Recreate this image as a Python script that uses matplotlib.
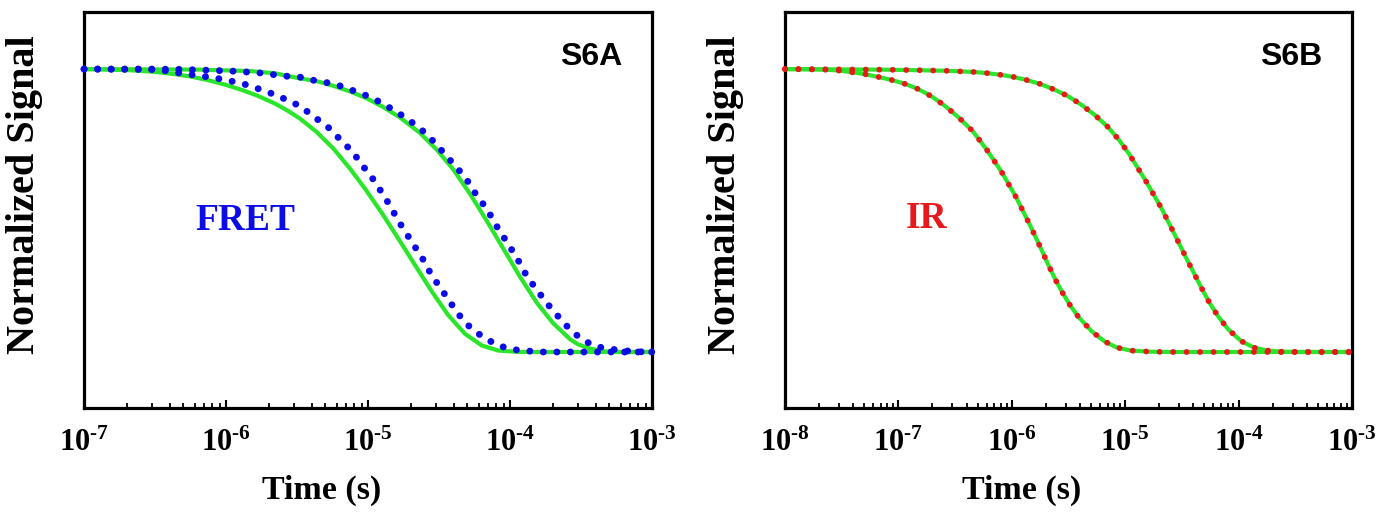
import matplotlib
matplotlib.use("Agg")
import matplotlib.pyplot as plt
import numpy as np
from matplotlib.ticker import LogLocator, NullFormatter, FuncFormatter

# ---- data (time as log10 of seconds, normalized signal) ----
# S6A, FRET: two measured decays (dotted) and their fits (solid green)
fret_fast_logt = [-7.0, -6.61, -6.51, -6.43, -6.33, -6.24, -6.14, -6.05, -5.96, -5.86,
                  -5.77, -5.67, -5.58, -5.47, -5.39, -5.29, -5.20, -5.11, -5.04, -4.96,
                  -4.90, -4.84, -4.79, -4.73, -4.67, -4.61, -4.56, -4.50, -4.44, -4.37,
                  -4.29, -4.19, -4.09, -4.00, -3.91, -3.79, -3.0]
fret_fast_sig = [1.0, 0.999, 0.998, 0.994, 0.986, 0.980, 0.973, 0.966, 0.957, 0.945,
                 0.930, 0.912, 0.893, 0.867, 0.834, 0.799, 0.753, 0.708, 0.660, 0.608,
                 0.561, 0.513, 0.466, 0.419, 0.372, 0.325, 0.278, 0.233, 0.190, 0.137,
                 0.092, 0.052, 0.025, 0.010, 0.005, 0.0, 0.0]

fret_slow_logt = [-7.0, -6.51, -6.33, -6.14, -5.96, -5.77, -5.58, -5.47, -5.39, -5.29,
                  -5.20, -5.10, -5.01, -4.91, -4.82, -4.72, -4.62, -4.53, -4.45, -4.36,
                  -4.29, -4.23, -4.16, -4.11, -4.05, -3.99, -3.93, -3.88, -3.81, -3.74,
                  -3.66, -3.57, -3.48, -3.39, -3.29, -3.20, -3.12, -3.0]
fret_slow_sig = [1.0, 1.0, 0.999, 0.996, 0.993, 0.987, 0.975, 0.971, 0.961, 0.952,
                 0.941, 0.923, 0.906, 0.882, 0.855, 0.823, 0.784, 0.740, 0.694, 0.643,
                 0.598, 0.549, 0.504, 0.457, 0.410, 0.363, 0.313, 0.266, 0.219, 0.172,
                 0.125, 0.075, 0.040, 0.019, 0.010, 0.005, 0.001, 0.0]

fit_fast_logt = [-7.0, -6.676, -6.500, -6.359, -6.254, -6.127, -6.007, -5.887, -5.775,
                 -5.655, -5.563, -5.479, -5.361, -5.244, -5.127, -5.021, -4.904, -4.787,
                 -4.669, -4.551, -4.435, -4.317, -4.199, -4.082, -3.930, -3.0]
fit_fast_sig = [1.0, 0.996, 0.990, 0.982, 0.974, 0.961, 0.945, 0.926, 0.905,
                0.878, 0.852, 0.825, 0.777, 0.719, 0.648, 0.577, 0.492, 0.401,
                0.307, 0.214, 0.130, 0.064, 0.023, 0.005, 0.0, 0.0]

fit_slow_logt = [-7.0, -6.183, -5.831, -5.655, -5.479, -5.359, -5.246, -5.127, -5.007,
                 -4.894, -4.775, -4.634, -4.514, -4.401, -4.282, -4.162, -4.021, -3.930,
                 -3.810, -3.697, -3.577, -3.521, -3.437, -3.331, -3.225, -3.0]
fit_slow_sig = [1.0, 0.998, 0.993, 0.985, 0.967, 0.957, 0.941, 0.921, 0.896,
                0.866, 0.829, 0.774, 0.714, 0.646, 0.559, 0.462, 0.343, 0.266,
                0.173, 0.102, 0.045, 0.027, 0.012, 0.002, 0.0, 0.0]

# S6B, IR: two measured decays (red dotted), fits lie on top of them
ir_fast_logt = [-8.0, -7.762, -7.647, -7.530, -7.412, -7.295, -7.174, -7.054, -6.936,
                -6.818, -6.701, -6.580, -6.463, -6.345, -6.219, -6.089, -5.963, -5.840,
                -5.751, -5.672, -5.613, -5.555, -5.487, -5.414, -5.295, -5.184, -5.075,
                -4.952, -4.781, -4.605, -3.0]
ir_fast_sig = [1.0, 0.999, 0.998, 0.995, 0.989, 0.982, 0.972, 0.961, 0.947,
               0.928, 0.902, 0.867, 0.827, 0.781, 0.714, 0.636, 0.548, 0.449,
               0.373, 0.303, 0.254, 0.211, 0.166, 0.125, 0.073, 0.038, 0.016,
               0.005, 0.001, 0.0, 0.0]

ir_slow_logt = [-8.0, -7.162, -6.818, -6.580, -6.345, -6.225, -6.104, -5.983, -5.866,
                -5.745, -5.628, -5.507, -5.390, -5.266, -5.154, -5.055, -4.967, -4.817,
                -4.684, -4.567, -4.449, -4.325, -4.261, -4.184, -4.091, -3.979, -3.862,
                -3.743, -3.620, -3.459, -3.0]
ir_slow_sig = [1.0, 0.998, 0.996, 0.994, 0.990, 0.986, 0.980, 0.972, 0.961,
               0.947, 0.928, 0.905, 0.875, 0.837, 0.796, 0.750, 0.701, 0.604,
               0.511, 0.418, 0.322, 0.225, 0.177, 0.128, 0.080, 0.039, 0.015,
               0.005, 0.001, 0.0, 0.0]

blue = '#0c0ce6'
red = '#e61a1a'
green = '#2ae62a'

plt.rcParams['font.family'] = ['Liberation Serif', 'DejaVu Serif']
plt.rcParams['font.weight'] = 'bold'
plt.rcParams['mathtext.fontset'] = 'custom'
plt.rcParams['mathtext.rm'] = 'Liberation Serif:bold'
plt.rcParams['mathtext.bf'] = 'Liberation Serif:bold'
plt.rcParams['mathtext.it'] = 'Liberation Serif:bold'


def t(logt):
    return 10.0 ** np.array(logt)


def decade_label(v, pos):
    e = int(round(np.log10(v)))
    return r'$10^{\text{-}%d}$' % abs(e)


def style_axis(ax, xlim, panel):
    ax.set_xscale('log')
    ax.set_xlim(*xlim)
    ax.set_ylim(-0.198, 1.2)
    ax.set_yticks([])
    ax.xaxis.set_major_locator(LogLocator(base=10, numticks=12))
    ax.xaxis.set_minor_locator(LogLocator(base=10, subs=np.arange(2, 10), numticks=12))
    ax.xaxis.set_minor_formatter(NullFormatter())
    ax.xaxis.set_major_formatter(FuncFormatter(decade_label))
    ax.tick_params(axis='x', which='major', direction='in', length=6, width=1.5,
                   labelsize=22, pad=15)
    ax.tick_params(axis='x', which='minor', direction='in', length=3.5, width=1.3)
    for s in ax.spines.values():
        s.set_linewidth(2.3)
    ax.set_xlabel('Time (s)', fontsize=24.5, fontweight='bold')
    ax.xaxis.set_label_coords(0.418, -0.168)
    ax.set_ylabel('Normalized Signal', fontsize=29, fontweight='bold')
    ax.yaxis.set_label_coords(-0.072, 0.539)
    ax.text(0.948, 0.8875, panel, transform=ax.transAxes, ha='right', va='center',
            fontsize=23, fontweight='bold', family='Liberation Sans')


fig = plt.figure(figsize=(13.8, 5.14), dpi=100)
ax1 = fig.add_axes([0.0609, 0.2062, 0.4116, 0.7695])
ax2 = fig.add_axes([0.5688, 0.2062, 0.4109, 0.7695])

# left panel
ax1.plot(t(fit_fast_logt), fit_fast_sig, color=green, lw=3.0, zorder=2)
ax1.plot(t(fit_slow_logt), fit_slow_sig, color=green, lw=3.0, zorder=2)
for lt, sig in [(fret_fast_logt, fret_fast_sig), (fret_slow_logt, fret_slow_sig)]:
    ax1.plot(t(lt), sig, color=blue, lw=5.0, linestyle=(0, (0.01, 1.94)),
             dash_capstyle='round', zorder=3, clip_on=False)
style_axis(ax1, (1e-7, 1e-3), 'S6A')
ax1.text(0.284, 0.473, 'FRET', transform=ax1.transAxes, ha='center', va='center',
         fontsize=27, fontweight='bold', color=blue)

# right panel
for lt, sig in [(ir_fast_logt, ir_fast_sig), (ir_slow_logt, ir_slow_sig)]:
    ax2.plot(t(lt), sig, color=green, lw=3.0, zorder=2)
    ax2.plot(t(lt), sig, color=red, lw=4.2, linestyle=(0, (0.01, 2.3)),
             dash_capstyle='round', zorder=3, clip_on=False)
style_axis(ax2, (1e-8, 1e-3), 'S6B')
ax2.text(0.250, 0.478, 'IR', transform=ax2.transAxes, ha='center', va='center',
         fontsize=27, fontweight='bold', color=red)

fig.savefig('out.png', dpi=100)
